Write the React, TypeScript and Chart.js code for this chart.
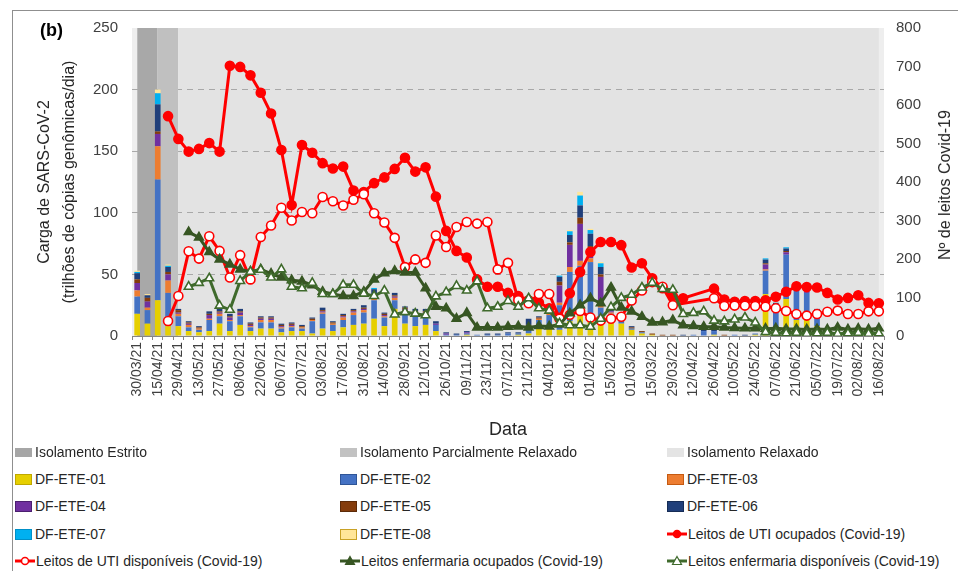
import React, { useEffect, useRef } from 'react';
import { Chart, registerables } from 'chart.js';

Chart.register(...registerables);

const FONT = "'Liberation Sans', Arial, sans-serif";

const dates = [
  '30/03/21', '07/04/21', '15/04/21', '22/04/21', '29/04/21', '06/05/21', '13/05/21', '20/05/21', '27/05/21', '01/06/21',
  '08/06/21', '15/06/21', '22/06/21', '29/06/21', '06/07/21', '13/07/21', '20/07/21', '27/07/21', '03/08/21', '10/08/21',
  '17/08/21', '24/08/21', '31/08/21', '07/09/21', '14/09/21', '21/09/21', '28/09/21', '05/10/21', '12/10/21', '19/10/21',
  '26/10/21', '03/11/21', '09/11/21', '16/11/21', '23/11/21', '30/11/21', '07/12/21', '14/12/21', '21/12/21', '28/12/21',
  '04/01/22', '11/01/22', '18/01/22', '25/01/22', '01/02/22', '08/02/22', '15/02/22', '22/02/22', '01/03/22', '08/03/22',
  '15/03/22', '22/03/22', '29/03/22', '05/04/22', '12/04/22', '19/04/22', '26/04/22', '03/05/22', '10/05/22', '17/05/22',
  '24/05/22', '31/05/22', '07/06/22', '14/06/22', '21/06/22', '28/06/22', '05/07/22', '12/07/22', '19/07/22', '26/07/22',
  '02/08/22', '09/08/22', '16/08/22',
];

// isolation periods (1 = period active)
const isolEstrito = [1, 1, 1, null, null, null, null, null, null, null, null, null, null, null, null, null, null, null, null, null, null, null, null, null, null, null, null, null, null, null, null, null, null, null, null, null, null, null, null, null, null, null, null, null, null, null, null, null, null, null, null, null, null, null, null, null, null, null, null, null, null, null, null, null, null, null, null, null, null, null, null, null, null];
const isolParcial = [null, null, 1, 1, 1, null, null, null, null, null, null, null, null, null, null, null, null, null, null, null, null, null, null, null, null, null, null, null, null, null, null, null, null, null, null, null, null, null, null, null, null, null, null, null, null, null, null, null, null, null, null, null, null, null, null, null, null, null, null, null, null, null, null, null, null, null, null, null, null, null, null, null, null];
const isolRelaxado = [null, null, null, null, 1, 1, 1, 1, 1, 1, 1, 1, 1, 1, 1, 1, 1, 1, 1, 1, 1, 1, 1, 1, 1, 1, 1, 1, 1, 1, 1, 1, 1, 1, 1, 1, 1, 1, 1, 1, 1, 1, 1, 1, 1, 1, 1, 1, 1, 1, 1, 1, 1, 1, 1, 1, 1, 1, 1, 1, 1, 1, 1, 1, 1, 1, 1, 1, 1, 1, 1, 1, 1];

// SARS-CoV-2 load per WWTP (trilhões de cópias genômicas/dia)
const ete01 = [18, 10, 29, 8, 8, 4, 3, 4, 10, 4, 9, 4, 6, 6, 3, 4, 4, 2, 6, 4, 7, 9, 10, 14, 8, 22, 10, 8, 9, 4, 0, 0, 1, 0, 0, 0, 0, 1, 2, 9, 9, 5, 12, 22, 12, 15, 14, 10, 5, 2, 1, 0, 0, 0, 0, 0, 1, 0, 0, 0, 1, 34, 3, 30, 13, 13, 8, 2, 1, 1, 1, 1, 1];
const ete02 = [14, 11, 98, 27, 8, 3, 2, 9, 6, 8, 7, 3, 5, 5, 3, 3, 2, 10, 12, 5, 6, 8, 9, 15, 7, 7, 9, 9, 8, 5, 1, 1, 1, 1, 1, 1, 2, 1, 4, 4, 8, 20, 40, 35, 48, 8, 4, 5, 1, 1, 0, 0, 0, 0, 1, 4, 3, 0, 1, 0, 1, 19, 20, 36, 24, 22, 10, 0, 1, 0, 1, 0, 1];
const ete03 = [5, 2, 27, 10, 2, 2, 1, 1, 2, 1, 1, 1, 2, 2, 1, 1, 1, 1, 1, 1, 2, 2, 2, 2, 1, 2, 2, 1, 1, 0, 0, 0, 0, 0, 0, 0, 0, 0, 0, 1, 1, 2, 4, 4, 3, 3, 1, 1, 0, 0, 0, 0, 0, 0, 0, 0, 0, 0, 0, 0, 0, 1, 0, 0, 0, 0, 0, 0, 0, 0, 0, 0, 0];
const ete04 = [6, 5, 10, 5, 1, 1, 0, 3, 1, 2, 2, 1, 1, 1, 1, 1, 0, 0, 1, 0, 1, 1, 1, 2, 1, 1, 1, 1, 1, 1, 1, 0, 1, 0, 0, 0, 0, 0, 2, 0, 1, 14, 18, 30, 8, 22, 1, 0, 0, 0, 0, 0, 0, 0, 0, 0, 0, 0, 0, 0, 0, 4, 1, 2, 1, 1, 1, 0, 0, 0, 0, 0, 0];
const ete05 = [3, 3, 2, 2, 2, 1, 1, 1, 1, 1, 1, 1, 1, 1, 1, 1, 1, 1, 1, 1, 1, 1, 1, 1, 1, 1, 1, 1, 1, 0, 0, 0, 0, 0, 0, 0, 0, 0, 1, 1, 0, 3, 2, 5, 2, 2, 0, 1, 1, 1, 1, 1, 1, 0, 0, 0, 0, 1, 0, 0, 0, 1, 1, 1, 0, 0, 2, 2, 1, 1, 0, 1, 0];
const ete06 = [5, 2, 22, 4, 1, 1, 1, 2, 2, 2, 2, 1, 1, 1, 1, 1, 1, 1, 2, 1, 1, 1, 2, 4, 1, 2, 1, 2, 2, 2, 1, 1, 1, 0, 1, 1, 1, 1, 5, 1, 2, 4, 6, 10, 10, 6, 2, 1, 1, 0, 0, 0, 0, 1, 0, 1, 1, 0, 0, 1, 0, 3, 2, 2, 2, 2, 1, 0, 0, 0, 0, 0, 0];
const ete07 = [1, 0, 9, 1, 0, 0, 0, 0, 0, 0, 0, 0, 0, 0, 0, 0, 0, 0, 0, 0, 0, 0, 0, 1, 0, 0, 0, 0, 0, 0, 0, 0, 0, 0, 0, 0, 0, 0, 0, 0, 0, 1, 3, 8, 3, 3, 0, 0, 0, 0, 0, 0, 0, 0, 0, 0, 0, 0, 0, 0, 0, 1, 0, 1, 0, 0, 0, 0, 0, 0, 0, 0, 0];
const ete08 = [1, 1, 3, 1, 0, 0, 0, 0, 0, 0, 0, 0, 0, 0, 0, 0, 0, 0, 0, 0, 0, 0, 0, 0, 0, 0, 0, 0, 0, 0, 0, 0, 0, 0, 0, 0, 0, 0, 0, 0, 0, 0, 1, 3, 1, 1, 0, 0, 0, 0, 0, 0, 0, 0, 0, 0, 0, 0, 0, 0, 0, 0, 0, 0, 0, 0, 0, 0, 0, 0, 0, 0, 0];

// hospital beds (Nº de leitos Covid-19)
const utiOcupados = [null, null, null, 571, 512, 479, 486, 501, 479, 702, 699, 677, 632, 578, 483, 340, 496, 476, 449, 435, 440, 378, 374, 397, 412, 434, 463, 427, 438, 362, 273, 221, 204, 147, 128, 128, 112, 104, 93, 87, 72, 47, 111, 166, 218, 244, 244, 236, 178, 189, 150, 124, 103, 98, null, null, 123, 95, 89, 91, 91, 93, 102, 115, 129, 127, 126, 112, 95, 99, 106, 86, 85];
const utiDisponiveis = [null, null, null, 39, 104, 220, 201, 259, 221, 152, 210, 147, 257, 287, 333, 300, 322, 319, 361, 350, 339, 354, 368, 319, 295, 255, 179, 199, 190, 261, 231, 283, 296, 292, 296, 173, 190, 93, 85, 109, 109, 45, 55, 65, 48, 40, 45, 50, 92, 118, 140, 128, 80, null, null, null, 98, 78, 79, 79, 78, 76, 72, 65, 57, 53, 57, 63, 66, 57, 57, 64, 64];
const enfOcupados = [null, null, null, null, null, 270, 256, 218, 199, 186, 173, 167, 173, 162, 152, 145, 142, 132, 115, 109, 104, 104, 115, 147, 163, 169, 165, 165, 124, 76, 72, 45, 60, 22, 22, 22, 24, 25, 22, 26, 25, 30, 59, 80, 98, 85, 126, 74, 64, 50, 35, 36, 41, 28, 26, 24, 24, 22, 21, 20, 20, 19, 20, 18, 18, 17, 18, 17, 22, 17, 19, 17, 20];
const enfDisponiveis = [null, null, null, null, null, 128, 138, 150, 79, 68, 143, 167, 172, 152, 173, 128, 124, 138, 109, 109, 133, 133, 110, 104, 118, 56, 62, 58, 54, 103, 114, 130, 118, 142, 72, 76, 91, 76, 98, 72, 66, 33, 28, 28, 24, 45, 75, 99, 107, 126, 138, 122, 120, 57, 60, 64, 40, 38, 43, 48, 35, 10, 8, 7, 8, 6, 7, 8, 6, 7, 8, 6, 7];

const leftTicks = { min: 0, max: 250, step: 50 };
const rightTicks = { min: 0, max: 800, step: 100 };

type LegendKind = 'area' | 'bar' | 'line';
type LegendSpec = { label: string; kind: LegendKind; fill: string; stroke: string; marker?: 'circle' | 'triangle'; markerFill?: string };

const bandDefs = [
  { label: 'Isolamento Estrito', data: isolEstrito, color: '#a8a8a8', legend: '#a6a6a6' },
  { label: 'Isolamento Parcialmente Relaxado', data: isolParcial, color: '#c0c0c0', legend: '#c2c2c2' },
  { label: 'Isolamento Relaxado', data: isolRelaxado, color: 'rgba(170,170,170,0.15)', legend: '#e4e4e4' },
];

const barDefs = [
  { label: 'DF-ETE-01', data: ete01, color: '#e6cf00', border: '#bfa800' },
  { label: 'DF-ETE-02', data: ete02, color: '#4472c4', border: '#2f5597' },
  { label: 'DF-ETE-03', data: ete03, color: '#ed7d31', border: '#c55a11' },
  { label: 'DF-ETE-04', data: ete04, color: '#7030a0', border: '#4b1f6f' },
  { label: 'DF-ETE-05', data: ete05, color: '#843c0c', border: '#5c2a08' },
  { label: 'DF-ETE-06', data: ete06, color: '#203f7a', border: '#162c55' },
  { label: 'DF-ETE-07', data: ete07, color: '#00b0f0', border: '#0090c8' },
  { label: 'DF-ETE-08', data: ete08, color: '#ffe699', border: '#c9a227' },
];

const lineDefs = [
  { label: 'Leitos de UTI ocupados (Covid-19)', data: utiOcupados, color: '#ff0000', pointFill: '#ff0000', style: 'circle' as const, radius: 4.5 },
  { label: 'Leitos de UTI disponíveis (Covid-19)', data: utiDisponiveis, color: '#ff0000', pointFill: '#ffffff', style: 'circle' as const, radius: 4.5 },
  { label: 'Leitos enfermaria ocupados (Covid-19)', data: enfOcupados, color: '#375623', pointFill: '#375623', style: 'triangle' as const, radius: 5 },
  { label: 'Leitos enfermaria disponíveis (Covid-19)', data: enfDisponiveis, color: '#3f6a2c', pointFill: '#ffffff', style: 'triangle' as const, radius: 5 },
];

const legendItems: LegendSpec[] = [
  ...bandDefs.map((b) => ({ label: b.label, kind: 'area' as LegendKind, fill: b.legend, stroke: b.legend })),
  ...barDefs.map((b) => ({ label: b.label, kind: 'bar' as LegendKind, fill: b.color, stroke: b.border })),
  ...lineDefs.map((l) => ({ label: l.label, kind: 'line' as LegendKind, fill: l.color, stroke: l.color, marker: l.style, markerFill: l.pointFill })),
];

const plotBg = {
  id: 'plotBg',
  beforeDraw(chart: any) {
    const { ctx, chartArea } = chart;
    if (!chartArea) return;
    ctx.save();
    ctx.fillStyle = '#eeeeee';
    ctx.fillRect(chartArea.left, chartArea.top, chartArea.right - chartArea.left, chartArea.bottom - chartArea.top);
    ctx.restore();
  },
};

function LegendSwatch({ item }: { item: LegendSpec }) {
  if (item.kind === 'area') {
    return <div style={{ width: 17, height: 9, background: item.fill, marginRight: 3 }} />;
  }
  if (item.kind === 'bar') {
    return <div style={{ width: 15, height: 9, background: item.fill, border: `1px solid ${item.stroke}`, marginRight: 3 }} />;
  }
  return (
    <svg width={20} height={12} style={{ marginRight: 1 }}>
      <line x1={0} y1={6} x2={20} y2={6} stroke={item.stroke} strokeWidth={3} />
      {item.marker === 'circle' ? (
        <circle cx={10} cy={6} r={3.5} fill={item.markerFill} stroke={item.stroke} strokeWidth={1.5} />
      ) : (
        <polygon points="10,1.5 14.5,9.5 5.5,9.5" fill={item.markerFill} stroke={item.stroke} strokeWidth={1.2} />
      )}
    </svg>
  );
}

const legendCols = [15, 340, 667];
const legendRows = [452, 479, 506, 534, 561];

export default function App() {
  const ref = useRef<HTMLCanvasElement>(null);

  useEffect(() => {
    if (!ref.current) return;
    const datasets: any[] = [];
    bandDefs.forEach((b) => {
      datasets.push({
        type: 'line',
        label: b.label,
        data: b.data,
        yAxisID: 'yBand',
        borderWidth: 0,
        borderColor: 'transparent',
        backgroundColor: b.color,
        fill: 'origin',
        pointRadius: 0,
        spanGaps: false,
        order: 100,
      });
    });
    barDefs.forEach((b) => {
      datasets.push({
        type: 'bar',
        label: b.label,
        data: b.data,
        yAxisID: 'y',
        stack: 'carga',
        backgroundColor: b.color,
        borderWidth: 0,
        barPercentage: 0.55,
        categoryPercentage: 1,
        order: 50,
      });
    });
    lineDefs.forEach((l, i) => {
      datasets.push({
        type: 'line',
        label: l.label,
        data: l.data,
        yAxisID: 'y2',
        borderColor: l.color,
        backgroundColor: l.color,
        borderWidth: 3,
        pointStyle: l.style,
        pointRadius: l.radius,
        pointBackgroundColor: l.pointFill,
        pointBorderColor: l.color,
        pointBorderWidth: 1.6,
        spanGaps: true,
        tension: 0,
        fill: false,
        order: 10 - i,
      });
    });

    const chart = new Chart(ref.current, {
      type: 'bar',
      data: { labels: dates, datasets },
      plugins: [plotBg],
      options: {
        animation: false,
        responsive: false,
        maintainAspectRatio: false,
        layout: { padding: { left: 0, right: 0, top: 10, bottom: 0 } },
        plugins: { legend: { display: false }, tooltip: { enabled: false }, title: { display: false } },
        scales: {
          x: {
            stacked: true,
            offset: true,
            grid: { drawOnChartArea: false, drawTicks: true, tickLength: 4, color: '#868686', offset: true },
            border: { display: true, color: '#868686', width: 1 },
            ticks: {
              autoSkip: false,
              minRotation: 90,
              maxRotation: 90,
              padding: 2,
              color: '#404040',
              font: { family: FONT, size: 14 },
              callback: (_v: any, i: number) => (i % 2 === 0 ? dates[i] : ''),
            },
            title: { display: true, text: 'Data', color: '#262626', font: { family: FONT, size: 18 }, padding: { top: 0, bottom: 10 } },
            afterFit: (s: any) => { s.height = 115; },
          },
          y: {
            position: 'left',
            stacked: true,
            min: leftTicks.min,
            max: leftTicks.max,
            ticks: { stepSize: leftTicks.step, padding: 14, color: '#404040', font: { family: FONT, size: 15 } },
            grid: {
              drawTicks: false,
              lineWidth: 1,
              color: (c: any) => (c.tick && (c.tick.value === 0 || c.tick.value === 250) ? 'rgba(0,0,0,0)' : '#a9a9a9'),
            },
            border: { display: false, dash: [6, 5] },
            title: {
              display: true,
              text: ['Carga de SARS-CoV-2', '(trilhões de cópias genômicas/dia)'],
              color: '#262626',
              font: { family: FONT, size: 16, lineHeight: 1.55 },
              padding: { top: 19, bottom: 0 },
            },
            afterFit: (s: any) => { s.width = 119; },
          },
          y2: {
            position: 'right',
            min: rightTicks.min,
            max: rightTicks.max,
            ticks: { stepSize: rightTicks.step, padding: 12, color: '#404040', font: { family: FONT, size: 15 } },
            grid: { display: false, drawOnChartArea: false, drawTicks: false },
            border: { display: false },
            afterFit: (s: any) => { s.width = 74; },
          },
          yBand: { display: false, min: 0, max: 1 },
        },
      } as any,
    });
    return () => chart.destroy();
  }, []);

  return (
    <div style={{ position: 'fixed', left: 0, top: 0, width: 958, height: 571, overflow: 'hidden', background: '#ffffff', fontFamily: FONT }}>
      <div style={{ position: 'absolute', left: 12, top: 10, width: 1000, height: 1000, borderLeft: '1px solid #8f8f8f', borderTop: '1px solid #8f8f8f' }} />
      <canvas ref={ref} width={945} height={446} style={{ position: 'absolute', left: 13, top: 5, width: 945, height: 446 }} />
      <div style={{ position: 'absolute', left: 40, top: 19, fontWeight: 'bold', fontSize: 18, color: '#000000', lineHeight: '22px' }}>(b)</div>
      <div
        style={{
          position: 'absolute',
          left: 945,
          top: 185,
          transform: 'translate(-50%, -50%) rotate(-90deg)',
          whiteSpace: 'nowrap',
          fontSize: 16,
          color: '#262626',
          lineHeight: '20px',
        }}
      >
        Nº de leitos Covid-19
      </div>
      {legendItems.map((item, idx) => {
        const col = idx % 3;
        const row = Math.floor(idx / 3);
        return (
          <div
            key={item.label}
            style={{
              position: 'absolute',
              left: legendCols[col],
              top: legendRows[row] - 9,
              height: 18,
              display: 'flex',
              alignItems: 'center',
              whiteSpace: 'nowrap',
              fontSize: 14,
              color: '#262626',
            }}
          >
            <LegendSwatch item={item} />
            <span>{item.label}</span>
          </div>
        );
      })}
    </div>
  );
}
